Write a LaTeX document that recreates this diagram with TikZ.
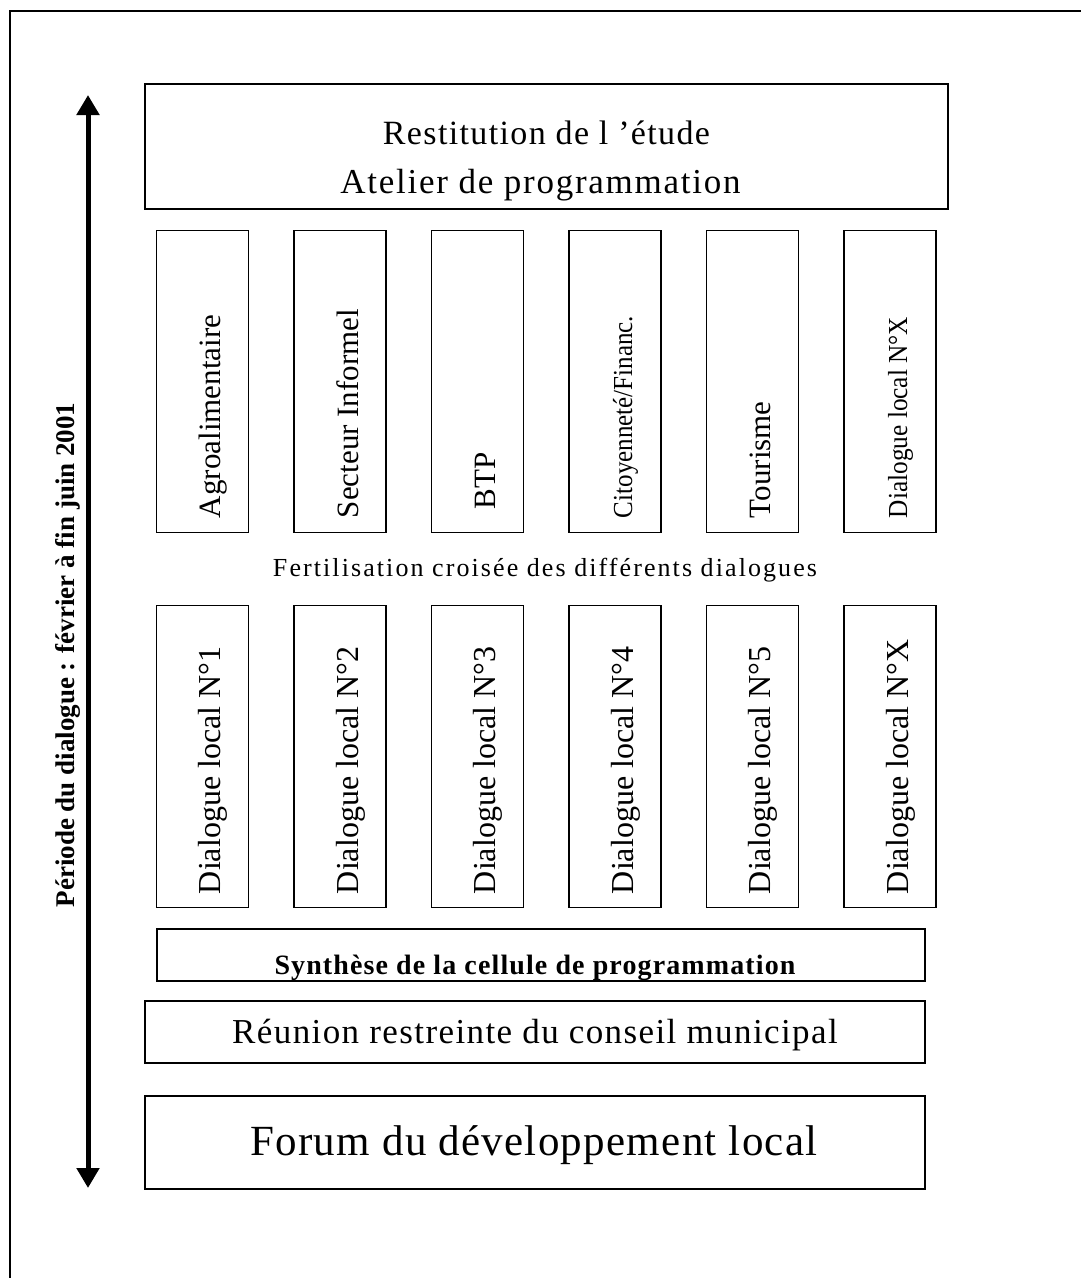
\documentclass[tikz,border=0pt]{standalone}
\usepackage{fontspec}
\setmainfont{Liberation Serif}
\usetikzlibrary{arrows.meta}
\tikzset{
  box/.style={draw, line width=1.5pt, inner sep=0pt, minimum width=#1},
  box/.default=92pt,
  colbox/.style={box=92pt, minimum height=302pt},
  coltext/.style={rotate=90, anchor=base west, inner sep=0pt, font=\fontsize{31}{36}\selectfont},
  coltextsmall/.style={coltext, font=\fontsize{27.5}{32}\selectfont},
  lotext/.style={rotate=90, anchor=base west, inner sep=0pt, font=\fontsize{32}{36}\selectfont},
  plain/.style={inner sep=0pt, anchor=base},
}
\begin{document}
\begin{tikzpicture}[x=1pt,y=-1pt]
\useasboundingbox (0,0) rectangle (1080,1278);
% outer frame
\draw[line width=2.5pt] (10,1290) -- (10,11) -- (1090,11);

% time arrow
\coordinate (atop) at (88,95);
\coordinate (abot) at (88,1188);
\draw[line width=5pt, {Triangle[width=22pt,length=20pt]}-{Triangle[width=22pt,length=20pt]}] (abot) -- (atop);
\node[rotate=90, anchor=base, inner sep=0pt, font=\fontsize{27}{30}\selectfont\bfseries] (periode) at (74,655) {Période du dialogue : février à fin juin 2001};

% top box
\node[box=803pt, minimum height=125pt] (restit) at (546.5,146.5) {};
\node[plain, font=\fontsize{34}{40}\selectfont\addfontfeatures{LetterSpace=4}] (restit1) at (546.5,144) {Restitution de l ’étude};
\node[plain, font=\fontsize{35}{40}\selectfont\addfontfeatures{LetterSpace=5}] (restit2) at (540.5,193) {Atelier de programmation};

% upper column boxes
\foreach \i in {0,...,5}{
  \pgfmathsetmacro{\cx}{202.5+137.5*\i}
  \node[colbox] (up\i) at (\cx,381.5) {};
}
\node[coltext] (upt0) at ([xshift=18pt,yshift=15pt]up0.south) {Agroalimentaire};
\node[coltext] (upt1) at ([xshift=18pt,yshift=15pt]up1.south) {Secteur Informel};
\node[coltext] (upt2) at ([xshift=18pt,yshift=24pt]up2.south) {BTP};
\node[coltextsmall] (upt3) at ([xshift=17pt,yshift=15pt]up3.south) {\scalebox{0.91}[1]{Citoyenneté/Financ.}};
\node[coltext] (upt4) at ([xshift=18pt,yshift=15pt]up4.south) {Tourisme};
\node[coltextsmall] (upt5) at ([xshift=17pt,yshift=15pt]up5.south) {\scalebox{0.92}[1]{Dialogue local N°X}};

% middle text
\node[inner sep=0pt, font=\fontsize{26}{30}\selectfont\addfontfeatures{LetterSpace=8}] (fertil) at (545,570) {Fertilisation croisée des différents dialogues};

% lower column boxes
\foreach \i/\t in {0/Dialogue local N°1,1/Dialogue local N°2,2/Dialogue local N°3,3/Dialogue local N°4,4/Dialogue local N°5,5/Dialogue local N°X}{
  \pgfmathsetmacro{\cx}{202.5+137.5*\i}
  \node[colbox] (lo\i) at (\cx,756.5) {};
  \node[lotext] (lot\i) at ([xshift=18pt,yshift=14pt]lo\i.south) {\t};
}

% synthese
\node[box=768pt, minimum height=52pt] (synth) at (541,955) {};
\node[plain, font=\fontsize{28}{30}\selectfont\bfseries\addfontfeatures{LetterSpace=4}] (syntht) at (535,974) {Synthèse de la cellule de programmation};

% reunion
\node[box=780pt, minimum height=62pt] (reunion) at (535,1032) {};
\node[plain, font=\fontsize{35}{40}\selectfont\addfontfeatures{LetterSpace=4}] (reuniont) at (535,1043) {Réunion restreinte du conseil municipal};

% forum
\node[box=780pt, minimum height=93pt] (forum) at (535,1142.5) {};
\node[plain, font=\fontsize{43}{48}\selectfont\addfontfeatures{LetterSpace=3}] (forumt) at (534,1155) {Forum du développement local};
\end{tikzpicture}
\end{document}
